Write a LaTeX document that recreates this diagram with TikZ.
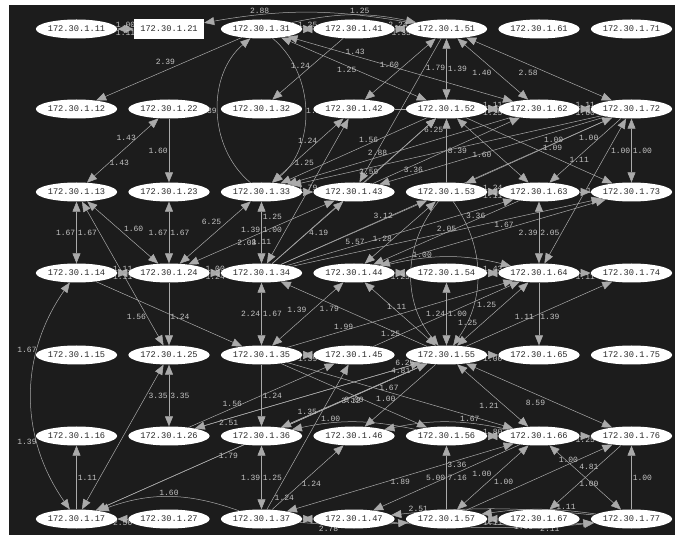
\documentclass[tikz,border=0pt]{standalone}
\usepackage{fontspec}
\newfontfamily\hostfont{Liberation Mono}
\usetikzlibrary{shapes.geometric, arrows.meta}

\definecolor{canvas}{HTML}{1C1C1C}
\definecolor{wire}{HTML}{AAAAAA}
\definecolor{tag}{HTML}{C4C4C4}
\definecolor{hosttext}{HTML}{2A2A2A}

\pgfdeclarelayer{back}
\pgfdeclarelayer{wires}
\pgfsetlayers{back,wires,main}

\tikzset{
  >={Triangle[length=10pt,width=8pt]},
  host/.style={ellipse, fill=white, minimum width=77pt, minimum height=19pt, inner sep=0pt,
    text=hosttext, font=\hostfont\fontsize{8.7}{9}\selectfont},
  gateway/.style={rectangle, fill=white, minimum width=70pt, minimum height=20pt, inner sep=0pt,
    text=hosttext, font=\hostfont\fontsize{8.7}{9}\selectfont},
  link/.style={draw=wire, line width=0.5pt, ->},
  both/.style={draw=wire, line width=0.5pt, <->},
  lbl/.style={text=tag, font=\hostfont\fontsize{8}{9}\selectfont, inner sep=1pt}
}

\begin{document}
\begin{tikzpicture}[x=1pt,y=1pt]
\useasboundingbox (0,0) rectangle (681,539);
\begin{pgfonlayer}{back}
\fill[canvas] (9,4) rectangle (675,534);
\end{pgfonlayer}

% hosts, column = third digit, row = last digit
\foreach \c/\x in {1/76.5,2/169,3/261.5,4/354,5/446.5,6/539,7/631.5}
  \foreach \r/\y in {1/510,2/430,3/347,4/266,5/184,6/103,7/20}
  {
    \ifnum\c\r=21\relax
      \node[gateway] (n\c\r) at (\x,\y) {172.30.1.\c\r};
    \else
      \node[host] (n\c\r) at (\x,\y) {172.30.1.\c\r};
    \fi
  }

\begin{pgfonlayer}{wires}
% top rows
\draw[both] (n11) -- node[lbl,above]{1.00} node[lbl,below]{1.11} (n21);
\draw[link] (n51) to[bend right=10] node[lbl,above,pos=0.75]{2.88} (n21);
\draw[both] (n41) -- node[lbl,above]{1.25} (n31);
\draw[link] (n31) to[bend left=12] node[lbl,above,pos=0.55]{1.25} (n51);
\draw[both] (n41) -- node[lbl,above,pos=0.3]{2.24} node[lbl,below,pos=0.6]{1.35} (n51);
\draw[link] (n31) -- node[lbl,above left,pos=0.45]{2.39} (n12);
\draw[link] (n41) -- node[lbl,left,pos=0.45]{1.24} (n32);
\draw[both] (n31) -- node[lbl,below,pos=0.45]{1.25} (n52);
\draw[both] (n31) -- node[lbl,above,pos=0.3]{1.43} (n62);
\draw[both] (n42) -- node[lbl,above left]{1.60} (n51);
\draw[link] (n51) -- node[lbl,right,pos=0.2]{1.79} (n43);
\draw[both] (n51) -- node[lbl,right]{1.39} (n52);
\draw[both] (n51) -- node[lbl,below left]{1.40} (n62);
\draw[both] (n51) -- node[lbl,below left]{2.58} (n72);
\draw[both] (n52) -- node[lbl,above]{1.11} node[lbl,below]{1.25} (n62);
\draw[both] (n62) -- node[lbl,above]{1.11} node[lbl,below]{1.60} (n72);

% left columns
\draw[both] (n22) -- node[lbl,left,pos=0.3]{1.43} node[lbl,right,pos=0.7]{1.43} (n13);
\draw[link] (n22) -- node[lbl,left]{1.60} (n23);
\draw[both] (n13) -- node[lbl,left]{1.67} node[lbl,right]{1.67} (n14);
\draw[both] (n23) -- node[lbl,left]{1.67} node[lbl,right]{1.67} (n24);
\draw[both] (n13) -- node[lbl,above right]{1.60} (n24);
\draw[both] (n13) -- node[lbl,left,pos=0.8]{1.56} (n25);
\draw[link] (n24) -- node[lbl,right,pos=0.55]{1.24} (n25);
\draw[both] (n14) -- node[lbl,above]{1.11} node[lbl,below]{1.11} (n24);
\draw[both] (n24) -- node[lbl,above]{1.00} node[lbl,below]{1.24} (n34);
\draw[both] (n33) -- node[lbl,above left,pos=0.4]{6.25} (n24);
\draw[both] (n43) -- node[lbl,below,pos=0.6]{2.08} (n24);
\draw[link] (n14) -- (n35);
\draw[link] (n33) to[bend left=50] node[lbl,left]{2.39} (n31);
\draw[link] (n31) to[bend left=50] node[lbl,right]{1.28} (n33);
\draw[both] (n33) -- node[lbl,right,pos=0.25]{1.25} node[lbl,left,pos=0.45]{1.39}
  node[lbl,right,pos=0.45]{1.00} node[lbl,pos=0.65]{1.11} (n34);
\draw[both] (n34) -- node[lbl,left]{2.24} node[lbl,right]{1.67} (n35);
\draw[link] (n33) -- node[lbl,above]{1.79} (n43);
\draw[both] (n42) -- node[lbl,left,pos=0.35]{1.24} node[lbl,right,pos=0.7]{1.25} (n33);
\draw[both] (n34) -- (n42);

% long links towards the upper right
\draw[link] (n52) -- node[lbl,above,pos=0.4]{1.56} (n33);
\draw[link] (n62) -- node[lbl,above,pos=0.6]{2.88} (n33);
\draw[link] (n72) -- node[lbl,below,pos=0.75]{3.59} (n33);
\draw[link] (n72) -- node[lbl,above,pos=0.85]{3.36} (n43);
\draw[link] (n34) -- node[lbl,right]{4.19} (n43);
\draw[link] (n34) -- node[lbl,above,pos=0.7]{3.12} (n53);
\draw[link] (n34) -- node[lbl,above,pos=0.3]{5.57} (n63);
\draw[link] (n34) -- node[lbl,above,pos=0.5]{2.05} (n73);
\draw[link] (n34) -- node[lbl,below,pos=0.82]{1.09} (n72);
\draw[link] (n34) -- node[lbl,right,pos=0.92]{6.25} (n52);
\draw[link] (n43) -- (n52);
\draw[link] (n42) -- (n62);
\draw[link] (n43) -- (n62);
\draw[both] (n52) -- node[lbl,below left]{1.60} (n63);
\draw[link] (n52) -- node[lbl,above right,pos=0.7]{1.11} (n73);
\draw[link] (n72) -- node[lbl,left,pos=0.3]{1.00} (n63);
\draw[link] (n72) -- node[lbl,above,pos=0.4]{1.00} (n53);
\draw[both] (n72) -- node[lbl,right]{1.79} (n64);
\draw[both] (n72) -- node[lbl,left]{1.00} node[lbl,right]{1.00} (n73);
\draw[link] (n53) -- node[lbl,right]{8.39} (n52);
\draw[both] (n53) -- node[lbl,above]{1.24} node[lbl,below]{1.11} (n63);
\draw[link] (n63) -- (n73);
\draw[both] (n63) -- node[lbl,left]{2.39} node[lbl,right]{2.05} (n64);
\draw[both] (n53) -- node[lbl,left,pos=0.6]{1.28} (n44);
\draw[link] (n63) -- node[lbl,above,pos=0.3]{3.36} (n44);
\draw[both] (n73) -- node[lbl,above,pos=0.45]{1.67} (n44);

% middle rows
\draw[both] (n44) -- node[lbl,below]{1.25} (n54);
\draw[link] (n44) to[bend left=14] node[lbl,above,pos=0.3]{1.00} (n64);
\draw[both] (n54) -- node[lbl,above]{1.43} (n64);
\draw[both] (n54) -- node[lbl,left]{1.24} node[lbl,right]{1.00} (n55);
\draw[link] (n53) to[bend right=40] (n55);
\draw[link] (n53) to[bend left=35] (n55);
\draw[both] (n55) -- node[lbl,above left,pos=0.3]{1.25} (n64);
\draw[link] (n45) -- node[lbl,below right,pos=0.7]{1.25} (n64);
\draw[link] (n64) -- node[lbl,right,pos=0.55]{1.39} (n65);
\draw[link] (n64) -- node[lbl,below]{1.11} (n74);
\draw[link] (n55) -- node[lbl,above,pos=0.4]{1.11} (n74);
\draw[link] (n55) -- node[lbl,below]{1.00} (n65);
\draw[both] (n55) -- node[lbl,below left,pos=0.6]{1.21} (n66);
\draw[both] (n55) -- node[lbl,below left,pos=0.55]{8.59} (n76);
\draw[both] (n55) -- node[lbl,above,pos=0.55]{1.11} (n44);
\draw[link] (n55) -- node[lbl,below,pos=0.25]{1.25} (n34);
\draw[both] (n35) -- node[lbl,above left]{1.39} node[lbl,below right,pos=0.65]{1.79} (n44);
\draw[link] (n35) -- node[lbl,above,pos=0.25]{1.99} (n64);
\draw[both] (n35) -- node[lbl,below]{1.39} (n45);
\draw[link] (n35) -- node[lbl,above,pos=0.45]{1.67} (n66);
\draw[link] (n35) -- node[lbl,below,pos=0.5]{9.00} (n56);
\draw[link] (n35) -- node[lbl,right]{1.24} (n36);
\draw[link] (n26) -- node[lbl,above,pos=0.3]{1.56} (n45);
\draw[link] (n55) -- node[lbl,below,pos=0.85]{2.51} (n26);
\draw[link] (n55) -- node[lbl,below,pos=0.6]{1.79} (n17);
\draw[link] (n26) -- node[lbl,above,pos=0.93]{6.25} (n55);
\draw[link] (n36) -- node[lbl,above,pos=0.82]{4.81} (n55);
\draw[link] (n17) -- node[lbl,below,pos=0.77]{3.12} (n55);
\draw[link] (n55) -- node[lbl,above,pos=0.82]{1.35} (n36);
\draw[link] (n55) -- node[lbl,left,pos=0.55]{1.00} (n46);
\draw[link] (n56) to[bend right=12] node[lbl,above,pos=0.7]{1.00} (n36);
\draw[link] (n66) to[bend right=12] node[lbl,above,pos=0.3]{1.67} (n46);
\draw[both] (n56) -- node[lbl,above]{1.80} (n66);
\draw[link] (n66) -- node[lbl,below]{1.25} (n76);

% bottom rows
\draw[link] (n57) -- node[lbl,left]{5.00} (n56);
\draw[both] (n57) -- node[lbl,above left]{1.00} node[lbl,below right]{1.00} (n66);
\draw[link] (n57) -- node[lbl,above,pos=0.7]{1.00} (n76);
\draw[link] (n76) -- node[lbl,right,pos=0.6]{1.00} (n67);
\draw[both] (n66) -- node[lbl,above right,pos=0.4]{4.81} (n77);
\draw[link] (n77) -- node[lbl,right]{1.00} (n76);
\draw[both] (n57) -- node[lbl,below]{1.11} (n67);
\draw[link] (n77) to[bend right=8] node[lbl,above,pos=0.25]{1.11} (n57);
\draw[link] (n77) to[bend right=6] node[lbl,above,pos=0.88]{2.51} (n47);
\draw[link] (n66) -- node[lbl,right]{7.16} (n47);
\draw[both] (n37) -- node[lbl,below]{1.89} node[lbl,below,pos=0.75]{3.36} (n66);
\draw[both] (n36) -- node[lbl,left]{1.39} node[lbl,right]{1.25} (n37);
\draw[link] (n37) -- node[lbl,right,pos=0.08]{1.24} (n45);
\draw[link] (n37) -- node[lbl,right,pos=0.4]{1.24} (n46);
\draw[both] (n37) -- (n47);
\draw[link] (n37) to[bend right=5] node[lbl,pos=0.25,yshift=-4pt]{2.78} (n57);
\draw[link] (n47) to[bend right=5] node[lbl,pos=0.8,yshift=-3pt]{2.11} (n77);
\draw[link] (n57) to[bend right=6] node[lbl,pos=0.35,yshift=-1pt]{1.09} (n77);
\draw[link] (n37) to[bend right=20] node[lbl,above]{1.60} (n17);
\draw[link] (n27) -- node[lbl,below]{2.50} (n17);
\draw[link] (n17) -- node[lbl,right]{1.11} (n16);
\draw[both] (n25) -- node[lbl,left]{3.35} node[lbl,right]{3.35} (n26);
\draw[both] (n17) -- (n25);
\draw[both] (n14) to[bend right=35] node[lbl,left,pos=0.3]{1.67} node[lbl,left,pos=0.7]{1.39} (n17);
\end{pgfonlayer}
\end{tikzpicture}
\end{document}
